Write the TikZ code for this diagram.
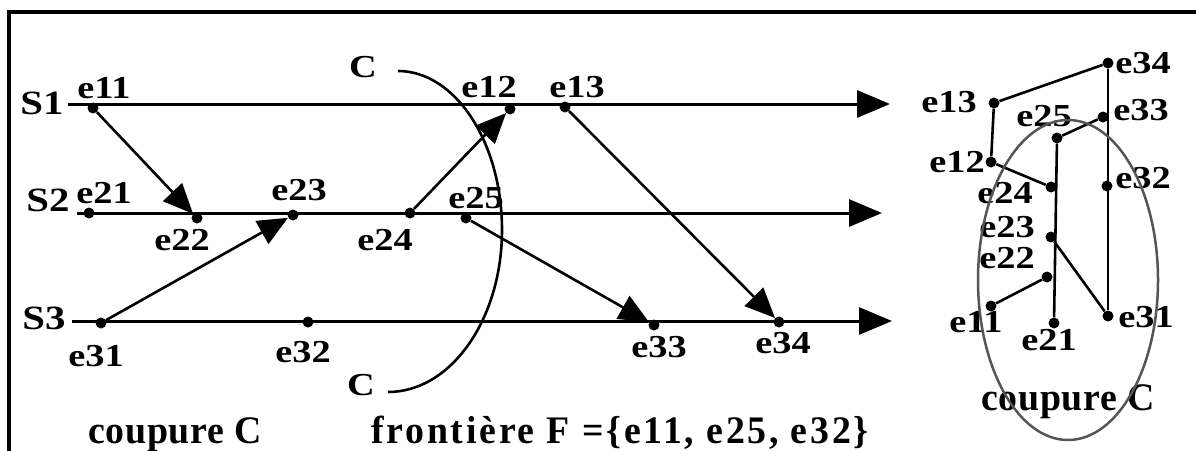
\documentclass[tikz,border=0pt]{standalone}
\usepackage{fontspec}
\newfontfamily\lblfont[FakeStretch=1.2]{Liberation Serif}
\newfontfamily\cutfont[FakeStretch=0.97,LetterSpace=2]{Liberation Serif}
\newfontfamily\frontfont[FakeStretch=0.97,LetterSpace=7]{Liberation Serif}
\usetikzlibrary{arrows.meta}
\definecolor{cutgray}{HTML}{555555}

\begin{document}
\begin{tikzpicture}[x=1pt,y=-1pt,
  lbl/.style={inner sep=0pt,font=\lblfont\bfseries\fontsize{32pt}{33pt}\selectfont},
  proclbl/.style={inner sep=0pt,font=\lblfont\bfseries\fontsize{34pt}{35pt}\selectfont},
  cutlbl/.style={inner sep=0pt,anchor=base,font=\cutfont\bfseries\fontsize{39pt}{40pt}\selectfont},
  dot/.style={circle,fill,inner sep=0pt,minimum size=11pt},
  procline/.style={line width=3pt,-{Triangle[length=33pt,width=27pt]}},
  msg/.style={line width=2.6pt,-{Triangle[length=30pt,width=26pt]}},
  link/.style={line width=2.6pt}]
  \useasboundingbox (0,0) rectangle (1196,450);
  % frame
  \draw[line width=3.2pt] (1200,12) -- (9,12) -- (9,455);

  % processes
  \node[proclbl] (S1) at (42,103) {S1};
  \node[proclbl] (S2) at (48,200) {S2};
  \node[proclbl] (S3) at (44,318) {S3};
  \coordinate (S1start) at (68,104);  \coordinate (S1end) at (890,104);
  \coordinate (S2start) at (77,213);  \coordinate (S2end) at (882,213);
  \coordinate (S3start) at (72,321);  \coordinate (S3end) at (892,321);
  \draw[procline] (S1start) -- (S1end);
  \draw[procline] (S2start) -- (S2end);
  \draw[procline] (S3start) -- (S3end);

  % events
  \node[dot] (e11) at (93,108) {};
  \node[dot] (e12) at (510,109) {};
  \node[dot] (e13) at (565,107) {};
  \node[dot] (e21) at (89,213) {};
  \node[dot] (e22) at (197,218) {};
  \node[dot] (e23) at (293,215) {};
  \node[dot] (e24) at (410,213) {};
  \node[dot] (e25) at (466,218) {};
  \node[dot] (e31) at (101,323) {};
  \node[dot] (e32) at (308,322) {};
  \node[dot] (e33) at (654,325) {};
  \node[dot] (e34) at (779,322) {};
  \node[lbl] (t11) at (104,88) {e11};
  \node[lbl] (t12) at (489,87) {e12};
  \node[lbl] (t13) at (577,87) {e13};
  \node[lbl] (t21) at (104,193) {e21};
  \node[lbl] (t22) at (182,240) {e22};
  \node[lbl] (t23) at (299,190) {e23};
  \node[lbl] (t24) at (385,240) {e24};
  \node[lbl] (t25) at (476,198) {e25};
  \node[lbl] (t31) at (96,356) {e31};
  \node[lbl] (t32) at (303,352) {e32};
  \node[lbl] (t33) at (659,347) {e33};
  \node[lbl] (t34) at (783,343) {e34};

  % messages
  \draw[msg] (e11) -- (e22);
  \draw[msg] (e31) -- (e23);
  \draw[msg] (e24) -- (e12);
  \draw[msg] (e25) -- (e33);
  \draw[msg] (e13) -- (e34);

  % cut line C
  \node[lbl] (Ctop) at (363,67) {C};
  \node[lbl] (Cbot) at (361,385) {C};
  \coordinate (C1) at (398,71);
  \coordinate (C2) at (502,230);
  \coordinate (C3) at (388,392);
  \draw[link] (C1) .. controls (455,71) and (502,142) .. (C2)
    .. controls (502,319) and (451,392) .. (C3);

  \node[cutlbl] (cut) at (175,443) {coupure C};
  \node[cutlbl,font=\frontfont\bfseries\fontsize{39pt}{40pt}\selectfont] (front) at (620,443) {frontière F =\{e11, e25, e32\}};

  % right: lattice view of the cut
  \node[dot] (r34) at (1108,63) {};
  \node[dot] (r13) at (994,103) {};
  \node[dot] (r33) at (1103,117) {};
  \node[dot] (r25) at (1057,138) {};
  \node[dot] (r12) at (991,162) {};
  \node[dot] (r24) at (1051,187) {};
  \node[dot] (r32) at (1107,186) {};
  \node[dot] (r23) at (1051,237) {};
  \node[dot] (r22) at (1047,277) {};
  \node[dot] (r11) at (991,306) {};
  \node[dot] (r21) at (1054,323) {};
  \node[dot] (r31) at (1108,316) {};
  \draw[link] (r13) -- (r34);
  \draw[link] (r13) -- (r12);
  \draw[link] (r12) -- (r24);
  \draw[link] (r21) -- (r25);
  \draw[link] (r25) -- (r33);
  \draw[link] (r34) -- (r31);
  \draw[link] (r23) -- (r31);
  \draw[link] (r11) -- (r22);
  \node[lbl] (u34) at (1143,63) {e34};
  \node[lbl] (u13) at (949,102) {e13};
  \node[lbl] (u33) at (1141,110) {e33};
  \node[lbl] (u25) at (1044,116) {e25};
  \node[lbl] (u12) at (957,162) {e12};
  \node[lbl] (u24) at (1005,193) {e24};
  \node[lbl] (u32) at (1143,178) {e32};
  \node[lbl] (u23) at (1007,227) {e23};
  \node[lbl] (u22) at (1007,258) {e22};
  \node[lbl] (u11) at (976,322) {e11};
  \node[lbl] (u21) at (1049,340) {e21};
  \node[lbl] (u31) at (1146,317) {e31};
  \node[cutlbl] (cutR) at (1068,410) {coupure C};
  \draw[cutgray,line width=2.5pt] (1068,280) ellipse [x radius=90, y radius=160];
\end{tikzpicture}
\end{document}
